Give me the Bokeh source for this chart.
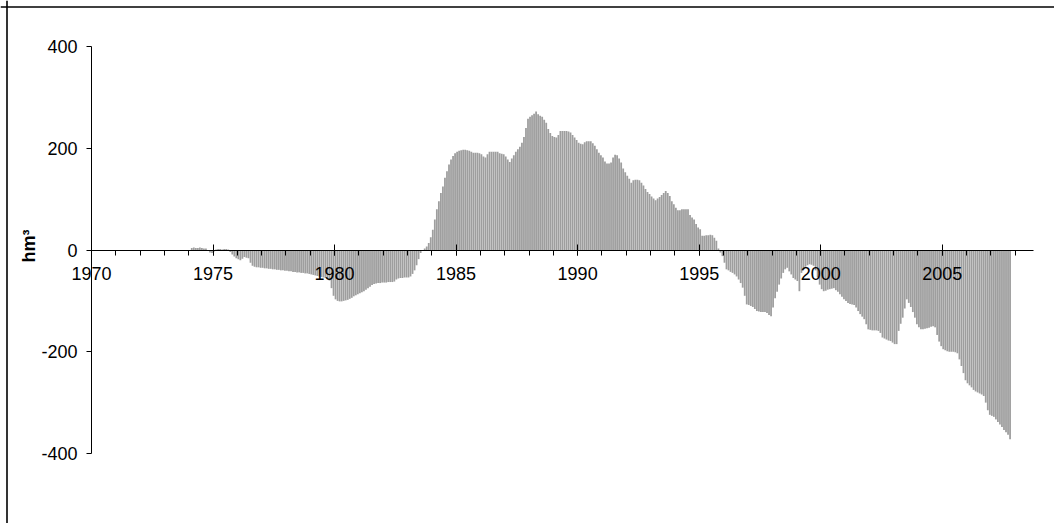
import numpy as np
from bokeh.plotting import figure
from bokeh.models import Range1d, FixedTicker, Span, Label, ColumnDataSource
from bokeh.embed import file_html
from bokeh.resources import INLINE

# ---- data (monthly values, hm3), first month = Jan 1974 ----
first_year = 1974
vals_1974_1979 = [
    0, 4, 5, 4, 4, 5, 4, 3, 3, -2, -5, -6,
    -3, 1, 2, 2, 1, 2, 2, 1, -4, -9, -13, -16,
    -18, -20, -17, -14, -15, -16, -25, -31, -33, -34, -34, -35,
    -35, -36, -36, -37, -37, -38, -38, -39, -39, -40, -40, -41,
    -41, -42, -42, -43, -43, -44, -44, -45, -45, -46, -46, -47,
    -48, -49, -50, -51, -52, -53, -54, -55, -57, -60, -75, -90,
]
vals_1980s = [
    -97, -100, -101, -101, -100, -99, -98, -96, -94, -91, -89, -87,
    -85, -83, -81, -78, -75, -72, -69, -67, -66, -65, -65, -64,
    -64, -64, -63, -63, -63, -62, -58, -56, -55, -55, -54, -54,
    -54, -52, -47, -40, -30, -18, -6, 0, 3, 7, 14, 25,
    40, 60, 80, 96, 112, 125, 142, 155, 168, 178, 185, 190,
    193, 195, 196, 197, 197, 196, 195, 193, 191, 191, 191, 190,
    188, 184, 182, 188, 193, 193, 193, 193, 193, 190, 189, 188,
    184, 178, 173, 180, 186, 193, 198, 203, 211, 222, 240, 258,
    262, 265, 268, 272, 267, 264, 262, 256, 250, 238, 230, 224,
    222, 221, 226, 234, 234, 234, 234, 233, 231, 226, 221, 216,
]
vals_1990s = [
    211, 209, 208, 212, 214, 214, 214, 210, 205, 198, 191, 186,
    182, 174, 170, 170, 172, 182, 187, 186, 180, 172, 160, 153,
    146, 140, 132, 137, 138, 138, 137, 132, 127, 120, 114, 110,
    105, 101, 98, 101, 104, 108, 112, 116, 112, 106, 96, 90,
    83, 78, 78, 80, 80, 80, 80, 69, 64, 60, 51, 44,
    41, 28, 28, 29, 29, 30, 29, 24, 18, 3, -5, -12,
    -25, -38, -40, -43, -45, -48, -52, -58, -65, -74, -90, -107,
    -108, -110, -112, -116, -120, -121, -122, -122, -122, -124, -128, -130,
    -113, -95, -82, -68, -56, -45, -38, -35, -42, -48, -55, -58,
    -61, -81, -45, -38, -33, -30, -28, -29, -31, -40, -54, -68,
]
vals_2000s = [
    -77, -81, -80, -78, -77, -76, -75, -79, -82, -87, -92, -97,
    -100, -104, -106, -107, -108, -113, -120, -126, -131, -136, -146, -156,
    -157, -158, -158, -158, -159, -163, -172, -174, -176, -178, -179, -182,
    -185, -185, -159, -145, -133, -115, -97, -104, -112, -122, -133, -146,
    -152, -156, -156, -155, -154, -153, -151, -150, -152, -167, -180, -189,
    -195, -197, -199, -200, -200, -200, -201, -203, -215, -228, -242, -256,
    -262, -266, -270, -275, -278, -280, -282, -284, -287, -300, -315, -324,
    -326, -328, -333, -338, -343, -348, -354, -358, -363, -372,
]
x_label_years = [1970, 1975, 1980, 1985, 1990, 1995, 2000, 2005]
x_minor_years = list(range(1970, 2009))
y_ticks = [-400, -200, 0, 200, 400]
y_tick_labels = ["-400", "-200", "0", "200", "400"]
y_title = "hm³"

values = vals_1974_1979 + vals_1980s + vals_1990s + vals_2000s
months = np.arange(len(values))
xpos = first_year + (months + 0.5) / 12.0
src = ColumnDataSource(dict(x=xpos, top=values))

# ---- figure (page body has no margin in Bokeh's template) ----
W, H = 1054, 523
px_per_year = 24.306
px_per_unit = 0.50875
x0 = 1970 - 91 / px_per_year
x1 = x0 + W / px_per_year
y1 = 400 + 46 / px_per_unit
y0 = y1 - H / px_per_unit

p = figure(width=W, height=H, output_backend="svg", toolbar_location=None,
           x_range=Range1d(x0, x1), y_range=Range1d(y0, y1),
           min_border=0, min_border_left=0, min_border_right=0,
           min_border_top=0, min_border_bottom=0)
p.outline_line_color = None
p.background_fill_color = "white"
p.border_fill_color = "white"
p.xgrid.visible = False
p.ygrid.visible = False

p.vbar(x="x", top="top", bottom=0, width=0.88 / 12, source=src,
       fill_color="#9e9e9e", line_color=None)

font = "Liberation Sans"
fsize = "18px"
xa = p.xaxis[0]
xa.fixed_location = 0
xa.bounds = (1970, 2008.76)
xa.ticker = FixedTicker(ticks=x_label_years, minor_ticks=x_minor_years)
xa.major_tick_in = 6
xa.major_tick_out = 5
xa.minor_tick_in = 0
xa.minor_tick_out = 5
xa.axis_line_color = "black"
xa.major_tick_line_color = "black"
xa.minor_tick_line_color = "black"
xa.major_label_text_font = font
xa.major_label_text_font_size = fsize
xa.major_label_text_color = "black"
xa.major_label_standoff = 12

ya = p.yaxis[0]
ya.fixed_location = 1970
ya.bounds = (-400, 400)
ya.ticker = FixedTicker(ticks=y_ticks, minor_ticks=[])
ya.major_label_overrides = {t: s for t, s in zip(y_ticks, y_tick_labels)}
ya.major_tick_in = 0
ya.major_tick_out = 5
ya.minor_tick_in = 0
ya.minor_tick_out = 0
ya.axis_line_color = "black"
ya.major_tick_line_color = "black"
ya.major_label_text_font = font
ya.major_label_text_font_size = fsize
ya.major_label_text_color = "black"
ya.major_label_standoff = 9

# y title
lab = Label(x=1970 - 63 / px_per_year, y=8, text=y_title, angle=np.pi / 2,
            text_align="center", text_baseline="alphabetic",
            text_font=font, text_font_size="18px", text_font_style="bold",
            text_color="black")
p.add_layout(lab)

# chart-area border (left and top edges)
p.add_layout(Span(location=x0 + 6.5 / px_per_year, dimension="height",
                  line_color="black", line_width=1.6))
p.add_layout(Span(location=y1 - 6.5 / px_per_unit, dimension="width",
                  line_color="black", line_width=1.6))

open("out.html", "w").write(file_html(p, INLINE))
